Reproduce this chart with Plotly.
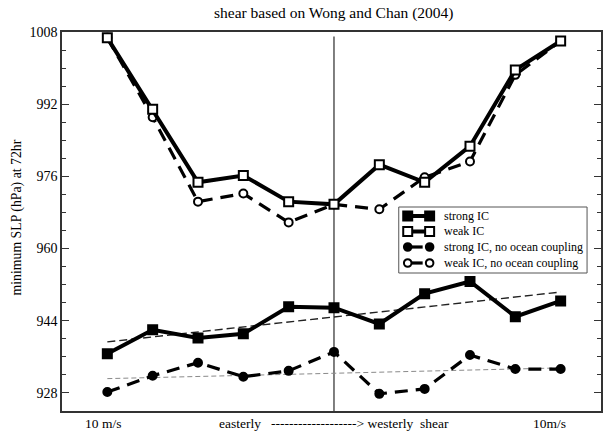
import numpy as np
import plotly.graph_objects as go

# Shear experiments: index 0 = 10 m/s easterly, 5 = no shear, 10 = 10 m/s westerly
shear_index = list(range(11))

# Minimum sea-level pressure (hPa) at 72 hr
strong_ic = [936.7, 942.0, 940.2, 941.1, 947.1, 946.9, 943.3, 950.0, 952.7, 944.9, 948.4]
weak_ic = [1006.7, 990.9, 974.7, 976.2, 970.4, 969.8, 978.6, 974.7, 982.7, 999.6, 1006.0]
strong_ic_uncoupled = [928.2, 931.8, 934.7, 931.6, 932.9, 937.1, 927.8, 928.9, 936.4, 933.3, 933.3]
weak_ic_uncoupled = [1006.7, 989.1, 970.4, 972.2, 965.8, 969.8, 968.7, 975.8, 979.3, 998.5, 1006.0]

y_major_ticks = [928, 944, 960, 976, 992, 1008]
bottom_left_label = "10 m/s"
bottom_mid_label = "easterly\u00a0\u00a0\u00a0-------------------> westerly\u00a0\u00a0shear"
bottom_right_label = "10m/s"

legend_names = ["strong IC", "weak IC", "strong IC, no ocean coupling", "weak IC, no ocean coupling"]

SERIF = "Liberation Serif, Times New Roman, serif"

W, H = 603, 433
ML, MR, MT, MB = 62, 0, 32, 22
PW, PH = W - ML - MR, H - MT - MB


def px_x(p):
    """Horizontal pixel position -> paper fraction."""
    return (p - ML) / PW


def px_y(p):
    """Vertical pixel position (from top) -> paper fraction."""
    return (H - MB - p) / PH


fig = go.Figure()

# Linear trends of the two strong-IC series
x_arr = np.array(shear_index, dtype=float)
for series, color, dash, width in [
    (strong_ic, "#222222", "8px,4px", 1.4),
    (strong_ic_uncoupled, "#8a8a8a", "5px,3px", 1.0),
]:
    slope, intercept = np.polyfit(x_arr, np.array(series), 1)
    ends = [x_arr[0], x_arr[-1]]
    fig.add_trace(go.Scatter(
        x=ends, y=[slope * e + intercept for e in ends],
        mode="lines", line=dict(color=color, width=width, dash=dash),
        showlegend=False, hoverinfo="skip",
    ))

series_styles = [
    # (values, solid?, marker symbol, filled?)
    (weak_ic_uncoupled, False, "circle", False),
    (strong_ic_uncoupled, False, "circle", True),
    (weak_ic, True, "square", False),
    (strong_ic, True, "square", True),
]
name_of = {id(strong_ic): legend_names[0], id(weak_ic): legend_names[1],
           id(strong_ic_uncoupled): legend_names[2], id(weak_ic_uncoupled): legend_names[3]}

for values, solid, symbol, filled in series_styles:
    fig.add_trace(go.Scatter(
        x=shear_index, y=values, name=name_of[id(values)],
        mode="lines+markers",
        line=dict(color="black", width=4 if solid else 3.2, dash="solid" if solid else "13px,8px"),
        marker=dict(symbol=symbol, size=9 if symbol == "square" else 8,
                    color="black" if filled else "white",
                    line=dict(color="black", width=2)),
        showlegend=False,
    ))

# Zero-shear divider
fig.add_shape(type="line", xref="x", yref="y", x0=5, x1=5, y0=924, y1=1007,
              line=dict(color="black", width=1), layer="below")

# Legend box drawn in paper space
box_l, box_r, box_t, box_b = 400, 589, 207, 273
fig.add_shape(type="rect", xref="paper", yref="paper",
              x0=px_x(box_l), x1=px_x(box_r), y0=px_y(box_b), y1=px_y(box_t),
              line=dict(color="#555555", width=1), fillcolor="white", layer="above")
row_y = [216, 231.5, 247, 263]
legend_styles = [("square", True, True), ("square", False, True),
                 ("circle", True, False), ("circle", False, False)]
m_left, m_right, text_x = 409, 431, 443
for name, ry, (symbol, filled, solid) in zip(legend_names, row_y, legend_styles):
    seg_end = m_right if solid else 424
    fig.add_shape(type="line", xref="paper", yref="paper",
                  x0=px_x(m_left), x1=px_x(seg_end), y0=px_y(ry), y1=px_y(ry),
                  line=dict(color="black", width=4 if solid else 3.2), layer="above")
    half = 4.5 if symbol == "square" else 3.8
    for cx in (m_left, m_right):
        fig.add_shape(type="rect" if symbol == "square" else "circle",
                      xref="paper", yref="paper",
                      x0=px_x(cx - half), x1=px_x(cx + half),
                      y0=px_y(ry + half), y1=px_y(ry - half),
                      line=dict(color="black", width=2),
                      fillcolor="black" if filled else "white", layer="above")
    fig.add_annotation(text=name, xref="paper", yref="paper", x=px_x(text_x), y=px_y(ry),
                       xanchor="left", yanchor="middle", showarrow=False,
                       font=dict(family=SERIF, size=12, color="black"))

fig.add_annotation(text="shear based on Wong and Chan (2004)", xref="paper", yref="paper",
                   x=0.505, y=1.0, yshift=19, xanchor="center", yanchor="middle",
                   showarrow=False, font=dict(family=SERIF, size=15.5, color="black"))
fig.add_annotation(text="minimum SLP (hPa) at 72hr", xref="paper", yref="paper",
                   x=0, xshift=-46, y=0.5, yshift=4, textangle=-90,
                   xanchor="center", yanchor="middle", showarrow=False,
                   font=dict(family=SERIF, size=13.8, color="black"))
for txt, xpos in [(bottom_left_label, -0.1), (bottom_mid_label, 5), (bottom_right_label, 9.75)]:
    fig.add_annotation(text=txt, xref="x", yref="paper", x=xpos, y=0, yshift=-12,
                       xanchor="center", yanchor="middle", showarrow=False,
                       font=dict(family=SERIF, size=13.5, color="black"))

fig.update_layout(
    width=W, height=H,
    margin=dict(l=ML, r=MR, t=MT, b=MB),
    paper_bgcolor="white", plot_bgcolor="white",
    font=dict(family=SERIF, color="black"),
    showlegend=False,
)
fig.update_xaxes(range=[-1, 10.89], showgrid=False, zeroline=False,
                 showline=True, linecolor="#333333", linewidth=1.5, mirror=True,
                 showticklabels=False, ticks="")
fig.update_yaxes(range=[924, 1008], tickvals=y_major_ticks, showgrid=False, zeroline=False,
                 showline=True, linecolor="#333333", linewidth=1.5, mirror="ticks",
                 ticks="inside", ticklen=7, tickcolor="#333333",
                 minor=dict(dtick=4, tick0=924, ticks="inside", ticklen=4, tickcolor="#333333"),
                 tickfont=dict(family=SERIF, size=14, color="black"))

fig.write_html("out.html")
